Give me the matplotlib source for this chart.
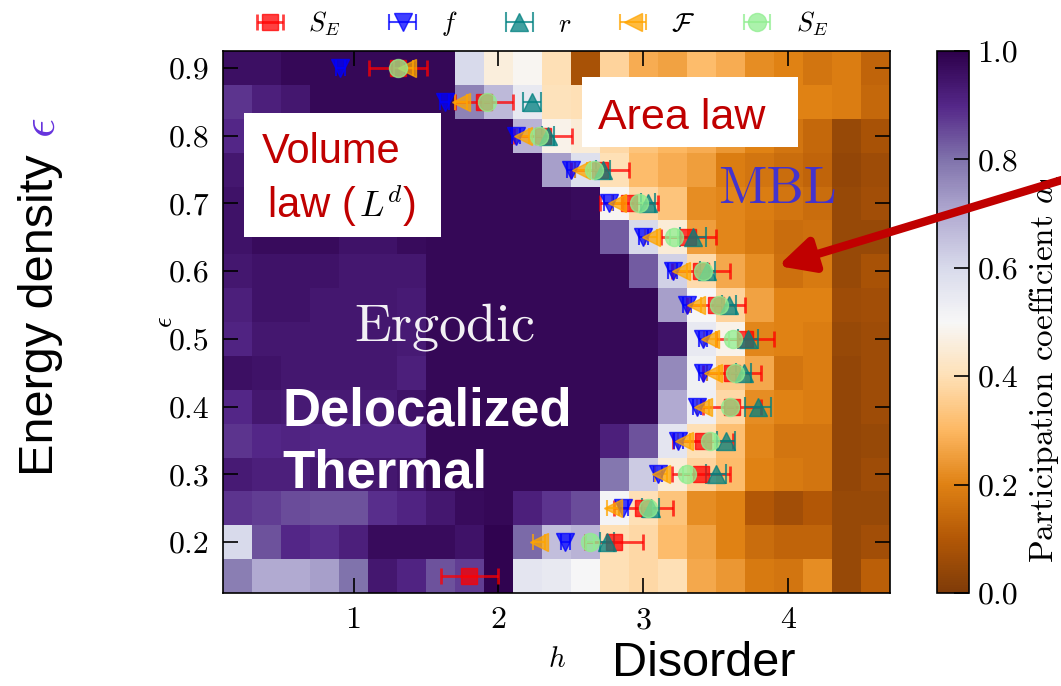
import numpy as np
import matplotlib.pyplot as plt
from matplotlib.patches import Rectangle, FancyArrowPatch

plt.rcParams['font.family'] = 'cmr10'
plt.rcParams['mathtext.fontset'] = 'cm'
plt.rcParams['axes.formatter.use_mathtext'] = True

W, H = 1061, 686

# grid of the heat map: disorder h (columns) and energy density eps (rows, top to bottom)
h_vals = [0.2, 0.4, 0.6, 0.8, 1.0, 1.2, 1.4, 1.6, 1.8, 2.0, 2.2, 2.4,
          2.6, 2.8, 3.0, 3.2, 3.4, 3.6, 3.8, 4.0, 4.2, 4.4, 4.6]
eps_rows = [0.90, 0.85, 0.80, 0.75, 0.70, 0.65, 0.60, 0.55,
            0.50, 0.45, 0.40, 0.35, 0.30, 0.25, 0.20, 0.15]
a1_rows = [
    [0.96, 0.96, 0.98, 0.98, 0.98, 0.98, 0.98, 0.98, 0.60, 0.46, 0.49, 0.40, 0.08, 0.37, 0.28, 0.26, 0.31, 0.28, 0.22, 0.20, 0.17, 0.19, 0.13],
    [0.88, 0.92, 0.94, 0.98, 0.98, 0.98, 0.98, 0.98, 0.77, 0.67, 0.55, 0.41, 0.40, 0.35, 0.32, 0.30, 0.28, 0.25, 0.22, 0.20, 0.20, 0.19, 0.14],
    [0.90, 0.94, 0.98, 0.98, 0.98, 0.98, 0.98, 0.98, 0.98, 0.98, 0.68, 0.48, 0.45, 0.38, 0.33, 0.30, 0.28, 0.24, 0.20, 0.17, 0.14, 0.05, 0.08],
    [0.94, 0.97, 0.98, 0.98, 0.98, 0.98, 0.98, 0.98, 0.98, 0.98, 0.98, 0.72, 0.58, 0.40, 0.31, 0.28, 0.25, 0.19, 0.17, 0.15, 0.13, 0.04, 0.06],
    [0.95, 0.95, 0.97, 0.98, 0.98, 0.98, 0.98, 0.98, 0.98, 0.98, 0.98, 0.98, 0.97, 0.49, 0.38, 0.33, 0.22, 0.21, 0.19, 0.17, 0.15, 0.05, 0.07],
    [0.95, 0.97, 0.97, 0.97, 0.95, 0.95, 0.97, 0.98, 0.98, 0.98, 0.98, 0.98, 0.98, 0.83, 0.60, 0.45, 0.25, 0.21, 0.18, 0.15, 0.16, 0.05, 0.05],
    [0.94, 0.95, 0.95, 0.95, 0.94, 0.94, 0.94, 0.98, 0.98, 0.98, 0.98, 0.98, 0.98, 0.98, 0.83, 0.62, 0.39, 0.27, 0.22, 0.16, 0.18, 0.05, 0.08],
    [0.92, 0.95, 0.95, 0.94, 0.94, 0.94, 0.93, 0.98, 0.98, 0.98, 0.98, 0.98, 0.98, 0.98, 0.98, 0.72, 0.50, 0.37, 0.26, 0.20, 0.20, 0.06, 0.07],
    [0.91, 0.94, 0.94, 0.94, 0.94, 0.94, 0.93, 0.98, 0.98, 0.98, 0.98, 0.98, 0.98, 0.98, 0.98, 0.95, 0.55, 0.48, 0.21, 0.20, 0.19, 0.05, 0.06],
    [0.96, 0.95, 0.94, 0.94, 0.94, 0.94, 0.92, 0.98, 0.98, 0.98, 0.98, 0.98, 0.98, 0.98, 0.98, 0.76, 0.52, 0.35, 0.27, 0.17, 0.19, 0.04, 0.06],
    [0.90, 0.94, 0.93, 0.93, 0.93, 0.93, 0.95, 0.98, 0.98, 0.98, 0.98, 0.98, 0.98, 0.98, 0.98, 0.70, 0.53, 0.38, 0.22, 0.20, 0.19, 0.04, 0.06],
    [0.88, 0.90, 0.91, 0.90, 0.90, 0.90, 0.90, 0.98, 0.98, 0.98, 0.98, 0.98, 0.98, 0.92, 0.84, 0.56, 0.40, 0.32, 0.21, 0.17, 0.17, 0.04, 0.05],
    [0.93, 0.92, 0.92, 0.94, 0.94, 0.94, 0.95, 0.98, 0.98, 0.98, 0.98, 0.98, 0.98, 0.79, 0.63, 0.45, 0.37, 0.31, 0.20, 0.18, 0.17, 0.04, 0.06],
    [0.88, 0.87, 0.85, 0.84, 0.84, 0.89, 0.91, 0.94, 0.97, 0.98, 0.92, 0.88, 0.85, 0.51, 0.40, 0.33, 0.22, 0.20, 0.10, 0.07, 0.10, 0.05, 0.05],
    [0.60, 0.84, 0.90, 0.89, 0.92, 0.97, 0.97, 0.97, 0.95, 0.99, 0.81, 0.66, 0.68, 0.40, 0.38, 0.31, 0.26, 0.20, 0.15, 0.13, 0.13, 0.05, 0.07],
    [0.78, 0.70, 0.70, 0.72, 0.80, 0.94, 0.91, 0.84, 0.87, 0.99, 0.56, 0.55, 0.50, 0.40, 0.38, 0.40, 0.27, 0.24, 0.18, 0.17, 0.22, 0.05, 0.12],
]

# transition estimates, one per eps row (nan = not shown)
nan = np.nan
se_red = [1.31, 1.90, 2.31, 2.70, 2.90, 3.31, 3.40, 3.50, 3.70, 3.61, 3.61, 3.41, 3.40, 3.00, 2.80, 1.80]
se_red_err = [0.20, 0.20, 0.20, 0.20, 0.20, 0.19, 0.20, 0.20, 0.20, 0.20, 0.20, 0.21, 0.20, 0.20, 0.20, 0.20]
f_blue = [0.91, 1.63, 2.12, 2.50, 2.76, 3.00, 3.20, 3.30, 3.41, 3.41, 3.37, 3.24, 3.10, 2.86, 2.46, nan]
r_teal = [nan, 2.23, 2.34, 2.72, 3.03, 3.34, 3.44, 3.59, 3.72, 3.69, 3.79, 3.57, 3.50, 3.05, 2.75, nan]
r_teal_err = [nan, 0.06, 0.04, 0.05, 0.05, 0.09, 0.05, 0.05, 0.07, 0.05, 0.09, 0.06, 0.07, 0.06, 0.05, nan]
F_orange = [1.37, 1.74, 2.17, 2.57, 2.82, 3.05, 3.26, 3.36, 3.46, 3.48, 3.41, 3.28, 3.12, 2.79, 2.28, nan]
se_green = [1.31, 1.92, 2.28, 2.66, 2.97, 3.21, 3.41, 3.52, 3.62, 3.63, 3.60, 3.46, 3.30, 3.03, 2.63, nan]

x_ticks = [1, 2, 3, 4]
y_ticks = [0.2, 0.3, 0.4, 0.5, 0.6, 0.7, 0.8, 0.9]
cbar_ticks = [0.0, 0.2, 0.4, 0.6, 0.8, 1.0]


def fx(px):
    return px / W


def fy(py):
    return 1 - py / H


fig = plt.figure(figsize=(W / 100, H / 100), dpi=100)
ax = fig.add_axes([fx(223), fy(593), fx(890) - fx(223), fy(51) - fy(593)])

mesh = ax.pcolormesh(h_vals, eps_rows[::-1], np.array(a1_rows)[::-1],
                     cmap='PuOr', vmin=0, vmax=1, shading='nearest')

alpha = 0.75
handles = []
handles.append(ax.errorbar(se_red, eps_rows, xerr=se_red_err, fmt='s', color='red', ms=11,
                           elinewidth=2, capsize=5.5, capthick=2, alpha=alpha, label=r'$S_E$'))
handles.append(ax.errorbar(f_blue, eps_rows, xerr=0.03, fmt='v', color='blue', ms=12.5,
                           elinewidth=1.5, capsize=5.5, capthick=1.5, alpha=alpha, label=r'$f$'))
handles.append(ax.errorbar(r_teal, eps_rows, xerr=r_teal_err, fmt='^', color='teal', ms=12.5,
                           elinewidth=1.5, capsize=7, capthick=1.5, alpha=alpha, label=r'$r$'))
handles.append(ax.errorbar(F_orange, eps_rows, xerr=0.04, fmt='<', color='orange', ms=12.5,
                           elinewidth=1.5, capsize=5.5, capthick=1.5, alpha=alpha, label=r'$\mathcal{F}$'))
handles.append(ax.errorbar(se_green, eps_rows, xerr=0.03, fmt='o', color='lightgreen', ms=13,
                           elinewidth=1.5, capsize=6, capthick=1.5, alpha=alpha, label=r'$S_E$'))

ax.set_xlim(0.1, 4.7)
ax.set_ylim(0.125, 0.925)
ax.set_xticks(x_ticks)
ax.set_xticklabels([str(t) for t in x_ticks])
ax.set_yticks(y_ticks)
ax.set_yticklabels([f'{t:.1f}' for t in y_ticks])
ax.tick_params(direction='in', length=11, width=1.2, top=True, right=True,
               labelsize=23, pad=10)
for s in ax.spines.values():
    s.set_linewidth(1.2)

ax.set_xlabel(r'$h$', fontsize=21)
ax.xaxis.set_label_coords(0.5, (593 - 660) / 542)
ax.xaxis.label.set_va('center')
ax.set_ylabel(r'$\epsilon$', fontsize=19)
ax.yaxis.set_label_coords((165 - 223) / 667, 0.5)
ax.yaxis.label.set_va('center')

# colorbar
cax = fig.add_axes([fx(937), fy(593), fx(969) - fx(937), fy(51) - fy(593)])
cbar = fig.colorbar(mesh, cax=cax, ticks=cbar_ticks)
cbar.ax.set_yticklabels([f'{t:.1f}' for t in cbar_ticks])
cbar.ax.tick_params(direction='in', length=11, width=1.2, labelsize=23, pad=6)
cbar.outline.set_linewidth(1.2)
cbar.set_label(r'Participation coefficient $a_1$', fontsize=24)
cbar.ax.yaxis.set_label_coords((1044 - 937) / 32, (593 - 369) / 542)
cbar.ax.yaxis.label.set_va('center')

fig.legend(handles=handles, loc='center', bbox_to_anchor=(fx(543), fy(24)), ncol=5,
           frameon=False, fontsize=19, handlelength=0.9, handletextpad=1.0,
           columnspacing=1.9, numpoints=1)

# annotations laid over the chart
red_txt = '#c00000'
sans = 'Liberation Sans'
fig.add_artist(Rectangle((fx(244), fy(237)), fx(441) - fx(244), fy(113) - fy(237),
                         transform=fig.transFigure, facecolor='white', edgecolor='none', zorder=4))
fig.add_artist(Rectangle((fx(582), fy(147)), fx(798) - fx(582), fy(77) - fy(147),
                         transform=fig.transFigure, facecolor='white', edgecolor='none', zorder=4))
fig.text(fx(262), fy(163), 'Volume', family=sans, fontsize=30, color=red_txt, va='baseline', zorder=5)
fig.text(fx(268), fy(217), 'law (', family=sans, fontsize=30, color=red_txt, va='baseline', zorder=5)
fig.text(fx(359), fy(217), r'$L^d$', fontsize=26, color='black', va='baseline', zorder=5)
fig.text(fx(403), fy(217), ')', family=sans, fontsize=30, color=red_txt, va='baseline', zorder=5)
fig.text(fx(598), fy(129), 'Area law', family=sans, fontsize=31, color=red_txt, va='baseline', zorder=5)

fig.text(fx(777), fy(203), 'MBL', fontsize=38, color='#4433cc', ha='center', va='baseline', zorder=5)
fig.text(fx(445), fy(340), 'Ergodic', fontsize=39, color='#f2f0f4', ha='center', va='baseline', zorder=5)
fig.text(fx(282), fy(425), 'Delocalized', family=sans, fontsize=38, weight='bold', color='white',
         va='baseline', zorder=5)
fig.text(fx(282), fy(488), 'Thermal', family=sans, fontsize=38, weight='bold', color='white',
         va='baseline', zorder=5)

fig.text(fx(41), fy(476), 'Energy density', family=sans, fontsize=35, rotation=90,
         ha='center', va='bottom', zorder=5)
fig.text(fx(43), fy(128), r'$\epsilon$', fontsize=35, rotation=90, color='#6633dd',
         ha='center', va='center', zorder=5)
fig.text(fx(612), fy(676), 'Disorder', family=sans, fontsize=35, va='baseline', zorder=5)

arrow = FancyArrowPatch((fx(1075), fy(176)), (fx(778), fy(266)), transform=fig.transFigure,
                        arrowstyle='-|>,head_length=0.7,head_width=0.35', mutation_scale=30,
                        linewidth=6, color='#c00000', shrinkA=0, shrinkB=0, zorder=6)
fig.add_artist(arrow)

fig.savefig('out.png', dpi=100)
